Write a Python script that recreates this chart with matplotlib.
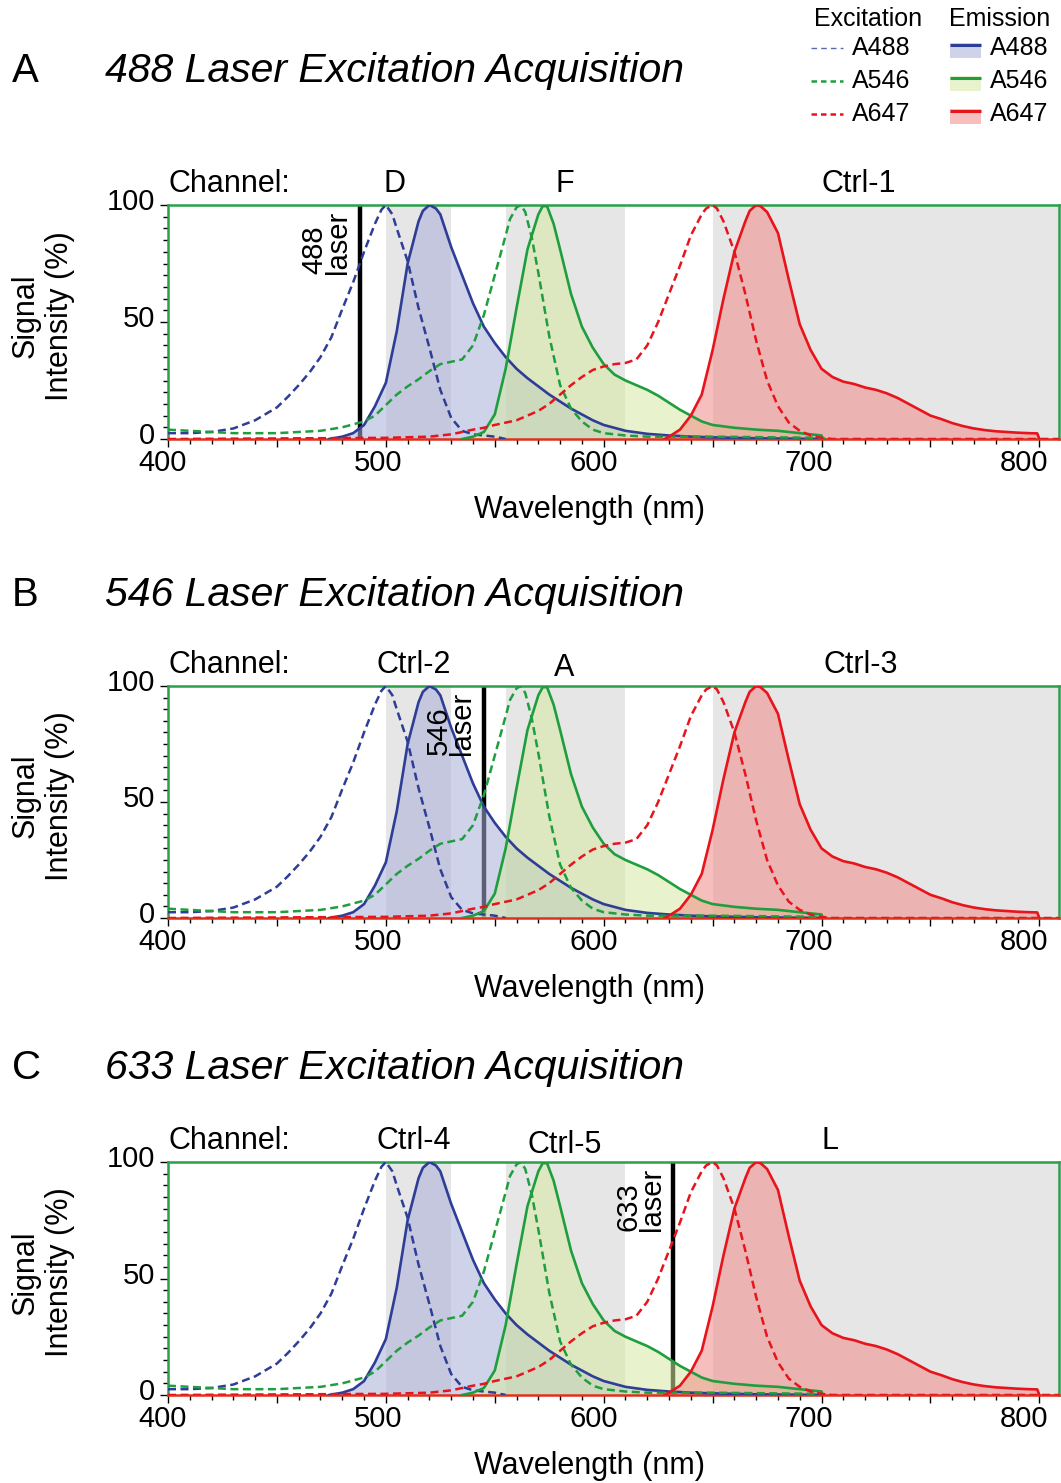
import matplotlib
matplotlib.use("Agg")
import matplotlib.pyplot as plt
from matplotlib.patches import Rectangle
from matplotlib.transforms import ScaledTranslation
from matplotlib.ticker import FixedLocator, MultipleLocator

plt.rcParams['font.family'] = ['Liberation Sans', 'DejaVu Sans']

# ---- spectra, % of max ----
ex488_nm = [400, 410, 420, 430, 440, 450, 455, 460, 465, 470, 475, 480, 485, 490, 495, 498, 500,
            503, 505, 510, 515, 520, 525, 530, 535, 540, 545, 550, 555]
ex488 = [2.5, 2.5, 3, 4.5, 8, 13.5, 18, 23, 28.5, 35, 43.5, 55.5, 67, 80, 92, 98, 100,
         96, 90, 76, 56, 39, 21, 9, 3.5, 2, 1.5, 1, 0]

em488_nm = [474, 480, 485, 490, 495, 500, 505, 510, 515, 517, 520, 523, 525, 530, 535, 540, 545,
            550, 555, 560, 565, 570, 575, 580, 585, 590, 595, 600, 610, 620, 630, 640, 650, 670, 700]
em488 = [0, 1, 2.5, 6, 14, 24, 46, 75, 93, 97.5, 100, 98.5, 96, 82, 70, 58, 48,
         41, 35, 30, 26, 22.5, 19, 16, 13, 10.5, 8, 6, 3.5, 2.2, 1.5, 1, 0.7, 0.3, 0]

ex546_nm = [400, 410, 420, 430, 440, 450, 460, 470, 480, 490, 495, 500, 505, 510, 515, 520,
            525, 530, 535, 540, 545, 550, 555, 557, 560, 562, 564, 567, 570, 575, 580, 585,
            590, 595, 600, 610, 620, 650, 700, 702]
ex546 = [4, 3.5, 3, 2.5, 2.5, 2.5, 3, 3.5, 5, 7.5, 10, 14.5, 19, 22.5, 25.5, 29,
         32, 33, 34, 40, 53, 70, 87, 94, 99, 100, 97, 86, 71, 44, 23, 13,
         7.5, 4, 2.5, 1.5, 1, 1, 0.5, 0]

em546_nm = [535, 540, 545, 550, 555, 560, 565, 570, 572, 574, 577, 580, 585, 590, 595, 600,
            605, 610, 615, 620, 625, 630, 635, 640, 645, 650, 660, 670, 680, 690, 700, 700.5]
em546 = [0, 1, 3, 10.5, 30, 56, 81, 96, 99.5, 99.5, 92, 81, 62, 48, 39, 32,
         27.5, 25, 23, 21, 18.5, 15.5, 12.5, 10, 7.5, 6, 4.8, 4, 3.5, 2.5, 1.5, 0]

ex647_nm = [400, 500, 520, 530, 540, 545, 550, 555, 560, 565, 570, 575, 580, 585, 590, 595,
            600, 605, 610, 615, 620, 625, 630, 635, 640, 645, 647, 650, 652, 655, 660, 665,
            670, 675, 680, 685, 690, 695, 700, 705, 809]
ex647 = [0, 0.5, 1, 2, 4, 4.8, 6, 7, 8, 10, 12, 15, 19, 23, 26.5, 29.5,
         31, 32, 32.5, 34, 40, 50, 62, 74, 87, 96, 98.5, 100, 98.5, 93, 80, 62,
         42, 25, 14, 7, 3.5, 1.5, 0.5, 0, 0]

em647_nm = [628, 630, 635, 640, 645, 650, 655, 660, 665, 667, 670, 672, 675, 680, 685, 690,
            695, 700, 705, 710, 715, 720, 725, 730, 735, 740, 745, 750, 755, 760, 765, 770,
            775, 780, 785, 790, 795, 799, 800]
em647 = [0, 1, 4, 10, 19, 38, 60, 80, 93, 97.5, 100, 99.5, 97, 88, 68, 49,
         38, 30, 26.5, 24.5, 23.5, 22, 21, 19.5, 17.5, 15, 12.5, 10, 8.5, 6.8, 5.5, 4.5,
         3.8, 3.3, 3, 2.7, 2.5, 2.4, 0]

# ---- panels ----
panel_letters = ['A', 'B', 'C']
panel_titles = ['488 Laser Excitation Acquisition',
                '546 Laser Excitation Acquisition',
                '633 Laser Excitation Acquisition']
laser_nm = [488, 545, 632]
laser_text = ['488\nlaser', '546\nlaser', '633\nlaser']
channel_names = [['D', 'F', 'Ctrl-1'], ['Ctrl-2', 'A', 'Ctrl-3'], ['Ctrl-4', 'Ctrl-5', 'L']]
channel_pos = [[504, 582, 717], [513, 582, 718], [513, 582, 704]]
channel_drop = [[0, 0, 0], [0, 3, 0], [0, 4, 0]]   # px lower than 'Channel:'
bands = [(500, 530), (555, 610), (650, 809)]

dye_names = ['A488', 'A546', 'A647']
line_col = ['#2e3d96', '#1f9e3e', '#e8141c']
fill_col = ['#a9afd8', '#d6e9a2', '#f08a86']

W, H = 1061, 1483
fig = plt.figure(figsize=(W / 100, H / 100), dpi=100)
panel_px = [(205, 439, 82), (686, 918, 606), (1162, 1395, 1079)]  # top, bottom, title baseline
x0, x1 = 168, 1059
spine_green = '#2aa04a'
FS = 22

spectra = [(ex488_nm, ex488, em488_nm, em488),
           (ex546_nm, ex546, em546_nm, em546),
           (ex647_nm, ex647, em647_nm, em647)]

for p in range(3):
    top, bot, tb = panel_px[p]
    ax = fig.add_axes([x0 / W, 1 - bot / H, (x1 - x0) / W, (bot - top) / H])
    ax.set_xlim(400, 809)
    ax.set_ylim(0, 100)

    for lo, hi in bands:
        ax.axvspan(lo, hi, color='#e6e6e6', lw=0, zorder=0)

    ax.vlines(laser_nm[p], 0, 100, color='k', lw=3.2, zorder=1)

    for i, (exx, exy, emx, emy) in enumerate(spectra):
        ax.fill_between(emx, 0, emy, color=fill_col[i], alpha=0.55, lw=0, zorder=2)
    for i, (exx, exy, emx, emy) in enumerate(spectra):
        ax.plot(emx, emy, color=line_col[i], lw=1.9, zorder=3)
        ax.plot(exx, exy, color=line_col[i], lw=1.8, dashes=(3.2, 1.8), zorder=3)

    ax.text(laser_nm[p] - 3.5, 97.5, laser_text[p], rotation=90, ha='right', va='top',
            fontsize=21, linespacing=0.8, multialignment='left', zorder=5)

    for s in ['left', 'top', 'right']:
        ax.spines[s].set_color(spine_green)
        ax.spines[s].set_linewidth(1.8)
    ax.spines['bottom'].set_color('#e0301c')
    ax.spines['bottom'].set_linewidth(1.8)

    ax.yaxis.set_major_locator(FixedLocator([0, 50, 100]))
    ax.yaxis.set_minor_locator(MultipleLocator(5))
    ax.xaxis.set_major_locator(FixedLocator(list(range(400, 801, 50))))
    ax.xaxis.set_minor_locator(MultipleLocator(10))
    ax.set_xticklabels([str(v) if v % 100 == 0 else '' for v in range(400, 801, 50)])
    ax.tick_params(which='major', direction='out', length=6, width=1, labelsize=21, color='k')
    ax.tick_params(which='minor', direction='out', length=3.5, width=1, color='k')
    ax.tick_params(axis='x', pad=1)
    ax.tick_params(axis='y', pad=3.5)

    for lab in ax.get_yticklabels():
        lab.set_transform(lab.get_transform() + ScaledTranslation(0, 6 / 100, fig.dpi_scale_trans))
    for lab, v in zip(ax.get_xticklabels(), range(400, 801, 50)):
        dx = 5 + (v - 400) * 0.025
        lab.set_transform(lab.get_transform() + ScaledTranslation(-dx / 100, 0, fig.dpi_scale_trans))

    ax.text((589 - x0) / (x1 - x0), -71 / (bot - top), 'Wavelength (nm)', transform=ax.transAxes,
            ha='center', va='center', fontsize=FS)
    ax.text((43 - x0) / (x1 - x0), 0.526, 'Signal\nIntensity (%)', transform=ax.transAxes,
            rotation=90, ha='center', va='center', multialignment='center', fontsize=FS)

    ytxt = 1 + 13 / (bot - top)
    trans = ax.get_xaxis_transform()
    ax.text(400, ytxt, 'Channel:', transform=trans, ha='left', va='baseline', fontsize=FS)
    for name, xc, dy in zip(channel_names[p], channel_pos[p], channel_drop[p]):
        ax.text(xc, ytxt - dy / (bot - top), name, transform=trans, ha='center',
                va='baseline', fontsize=FS)

    fig.text(12 / W, 1 - tb / H, panel_letters[p], fontsize=29, ha='left', va='baseline')
    fig.text(105 / W, 1 - tb / H, panel_titles[p], fontsize=29.5, style='italic',
             ha='left', va='baseline')

# ---- legend drawn in a pixel-coordinate overlay ----
lg = fig.add_axes([790 / W, 1 - 132 / H, (W - 790) / W, 132 / H])
lg.set_xlim(790, W)
lg.set_ylim(132, 0)
lg.axis('off')
lg.text(868, 19, 'Excitation', ha='center', va='center', fontsize=18)
lg.text(1000, 19, 'Emission', ha='center', va='center', fontsize=18)
rows = [48, 81, 114]
for i, yy in enumerate(rows):
    if i == 0:
        lg.plot([811, 843], [yy, yy], color='#5a68b0', lw=1.0, dashes=(4, 3))
    else:
        lg.plot([811, 843], [yy, yy], color=line_col[i], lw=1.8, dashes=(2.2, 1.6))
    lg.text(852, yy, dye_names[i], ha='left', va='center', fontsize=18)
    lg.add_patch(Rectangle((950, yy - 5), 31, 15, facecolor=fill_col[i], alpha=0.55, lw=0))
    lg.plot([950, 981], [yy - 3.5, yy - 3.5], color=line_col[i], lw=2.2, solid_capstyle='butt')
    lg.text(990, yy, dye_names[i], ha='left', va='center', fontsize=18)

fig.savefig('out.png', dpi=100)
